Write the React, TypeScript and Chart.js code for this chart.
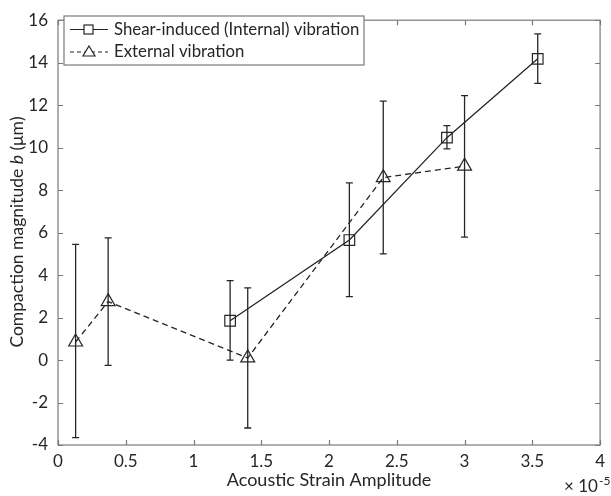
import React, { useEffect, useRef } from "react";
import { Chart, registerables } from "chart.js";

Chart.register(...registerables);

// Axis ticks (x values are in units of 10^-5)
const X_EXPONENT = -5;
const xTickValues = [0, 0.5, 1, 1.5, 2, 2.5, 3, 3.5, 4];
const yTickValues = [-4, -2, 0, 2, 4, 6, 8, 10, 12, 14, 16];

const seriesNames = ["Shear-induced (Internal) vibration", "External vibration"];

// Shear-induced (Internal) vibration
const shearX = [1.27, 2.15, 2.87, 3.54];
const shearY = [1.85, 5.65, 10.47, 14.18];
const shearLow = [0.0, 2.99, 9.94, 13.03];
const shearHigh = [3.74, 8.34, 11.04, 15.36];

// External vibration
const extX = [0.13, 0.37, 1.4, 2.4, 3.0];
const extY = [0.85, 2.75, 0.1, 8.59, 9.13];
const extLow = [-3.65, -0.25, -3.2, 5.0, 5.79];
const extHigh = [5.45, 5.75, 3.4, 12.19, 12.45];

const FONT = "Lato, 'Open Sans', sans-serif";
const INK = "#262626";
const AXIS = "#7a7a7a";

const errorBarPlugin = {
  id: "errorBars",
  beforeDatasetsDraw(chart: any) {
    const { ctx, scales } = chart;
    const xs = scales.x, ys = scales.y;
    const sets = [
      { x: shearX, lo: shearLow, hi: shearHigh },
      { x: extX, lo: extLow, hi: extHigh },
    ];
    ctx.save();
    ctx.strokeStyle = INK;
    ctx.lineWidth = 1.3;
    ctx.setLineDash([]);
    const cap = 3.5;
    sets.forEach((s) => {
      s.x.forEach((xv, i) => {
        const px = xs.getPixelForValue(xv);
        const pl = ys.getPixelForValue(s.lo[i]);
        const ph = ys.getPixelForValue(s.hi[i]);
        ctx.beginPath();
        ctx.moveTo(px, pl);
        ctx.lineTo(px, ph);
        ctx.moveTo(px - cap, pl);
        ctx.lineTo(px + cap, pl);
        ctx.moveTo(px - cap, ph);
        ctx.lineTo(px + cap, ph);
        ctx.stroke();
      });
    });
    ctx.restore();
  },
};

const framePlugin = {
  id: "frame",
  afterDraw(chart: any) {
    const { ctx, chartArea: a, scales } = chart;
    const xs = scales.x, ys = scales.y;
    ctx.save();
    ctx.strokeStyle = AXIS;
    ctx.lineWidth = 1.2;
    ctx.setLineDash([]);
    ctx.strokeRect(a.left, a.top, a.right - a.left, a.bottom - a.top);
    const tl = 5;
    ctx.beginPath();
    xTickValues.forEach((v) => {
      const px = Math.round(xs.getPixelForValue(v)) + 0.5;
      ctx.moveTo(px, a.bottom);
      ctx.lineTo(px, a.bottom - tl);
      ctx.moveTo(px, a.top);
      ctx.lineTo(px, a.top + tl);
    });
    yTickValues.forEach((v) => {
      const py = Math.round(ys.getPixelForValue(v)) + 0.5;
      ctx.moveTo(a.left, py);
      ctx.lineTo(a.left + tl, py);
      ctx.moveTo(a.right, py);
      ctx.lineTo(a.right - tl, py);
    });
    ctx.stroke();

    // y-axis title with italic b
    ctx.fillStyle = INK;
    ctx.textBaseline = "middle";
    const fs = 17.5;
    const parts = [
      { t: "Compaction magnitude ", f: `${fs}px ${FONT}` },
      { t: "b", f: `italic ${fs}px ${FONT}` },
      { t: " (\u03bcm)", f: `${fs}px ${FONT}` },
    ];
    let total = 0;
    parts.forEach((p) => {
      ctx.font = p.f;
      total += ctx.measureText(p.t).width;
    });
    ctx.translate(17, 232);
    ctx.rotate(-Math.PI / 2);
    let cx = -total / 2;
    ctx.textAlign = "left";
    parts.forEach((p) => {
      ctx.font = p.f;
      ctx.fillText(p.t, cx, 0);
      cx += ctx.measureText(p.t).width;
    });
    ctx.setTransform(1, 0, 0, 1, 0, 0);

    // exponent label
    ctx.font = `17px ${FONT}`;
    ctx.textAlign = "left";
    ctx.textBaseline = "alphabetic";
    const base = "\u00d7 10";
    ctx.fillText(base, 564, 492);
    const w = ctx.measureText(base).width;
    ctx.font = `12px ${FONT}`;
    ctx.fillText(String(X_EXPONENT), 564 + w + 1, 485);

    // legend
    const lx = 64, ly = 16, lw = 300, lh = 49;
    ctx.fillStyle = "#ffffff";
    ctx.fillRect(lx, ly, lw, lh);
    ctx.strokeStyle = AXIS;
    ctx.lineWidth = 1.2;
    ctx.strokeRect(lx, ly, lw, lh);
    const rows = [
      { y: 29.5, dash: [] as number[], style: "rect" },
      { y: 52, dash: [4, 3], style: "triangle" },
    ];
    rows.forEach((r, i) => {
      ctx.strokeStyle = INK;
      ctx.lineWidth = 1.2;
      ctx.setLineDash(r.dash);
      ctx.beginPath();
      ctx.moveTo(70, r.y);
      ctx.lineTo(108, r.y);
      ctx.stroke();
      ctx.setLineDash([]);
      ctx.fillStyle = "#ffffff";
      if (r.style === "rect") {
        ctx.fillRect(84, r.y - 4.5, 9, 9);
        ctx.strokeRect(84, r.y - 4.5, 9, 9);
      } else {
        ctx.beginPath();
        ctx.moveTo(89, r.y - 6);
        ctx.lineTo(95, r.y + 4);
        ctx.lineTo(83, r.y + 4);
        ctx.closePath();
        ctx.fill();
        ctx.stroke();
      }
      ctx.fillStyle = INK;
      ctx.font = `16.8px ${FONT}`;
      ctx.textAlign = "left";
      ctx.textBaseline = "middle";
      ctx.fillText(seriesNames[i], 114, r.y);
    });
    ctx.restore();
  },
};

export default function App() {
  const ref = useRef<HTMLCanvasElement | null>(null);
  useEffect(() => {
    document.body.style.margin = "0";
    const canvas = ref.current;
    if (!canvas) return;
    const chart = new Chart(canvas, {
      type: "scatter",
      data: {
        datasets: [
          {
            label: seriesNames[0],
            data: shearX.map((x, i) => ({ x, y: shearY[i] })),
            showLine: true,
            borderColor: INK,
            borderWidth: 1.3,
            backgroundColor: "rgba(0,0,0,0)",
            pointStyle: "rect",
            pointRadius: 7.5,
            pointBorderWidth: 1.2,
            pointBorderColor: INK,
            pointBackgroundColor: "rgba(0,0,0,0)",
          },
          {
            label: seriesNames[1],
            data: extX.map((x, i) => ({ x, y: extY[i] })),
            showLine: true,
            borderColor: INK,
            borderWidth: 1.3,
            borderDash: [6, 4],
            backgroundColor: "rgba(0,0,0,0)",
            pointStyle: "triangle",
            pointRadius: 8,
            pointBorderWidth: 1.2,
            pointBorderColor: INK,
            pointBackgroundColor: "rgba(0,0,0,0)",
          },
        ],
      },
      options: {
        responsive: false,
        animation: false,
        events: [],
        layout: { padding: { top: 9, right: 2, left: 0, bottom: 0 } },
        plugins: {
          legend: { display: false },
          tooltip: { enabled: false },
        },
        scales: {
          x: {
            type: "linear",
            min: 0,
            max: 4,
            afterFit: (s: any) => {
              s.height = 51;
            },
            afterBuildTicks: (s: any) => {
              s.ticks = xTickValues.map((v) => ({ value: v }));
            },
            grid: { display: false, drawTicks: false },
            border: { display: false },
            ticks: {
              padding: 6,
              color: INK,
              font: { family: FONT, size: 17 },
              maxRotation: 0,
              autoSkip: false,
              callback: (v: any) => String(v),
            },
            title: {
              display: true,
              text: "Acoustic Strain Amplitude",
              color: INK,
              font: { family: FONT, size: 18 },
              padding: { top: 0, bottom: 5 },
            },
          },
          y: {
            type: "linear",
            min: -4,
            max: 16,
            afterFit: (s: any) => {
              s.width = 58;
            },
            afterBuildTicks: (s: any) => {
              s.ticks = yTickValues.map((v) => ({ value: v }));
            },
            grid: { display: false, drawTicks: false },
            border: { display: false },
            ticks: {
              padding: 10,
              color: INK,
              font: { family: FONT, size: 17 },
              autoSkip: false,
              callback: (v: any) => String(v),
            },
          },
        },
      },
      plugins: [errorBarPlugin, framePlugin],
    });
    return () => chart.destroy();
  }, []);
  return <canvas ref={ref} width={611} height={496} style={{ display: "block" }} />;
}
